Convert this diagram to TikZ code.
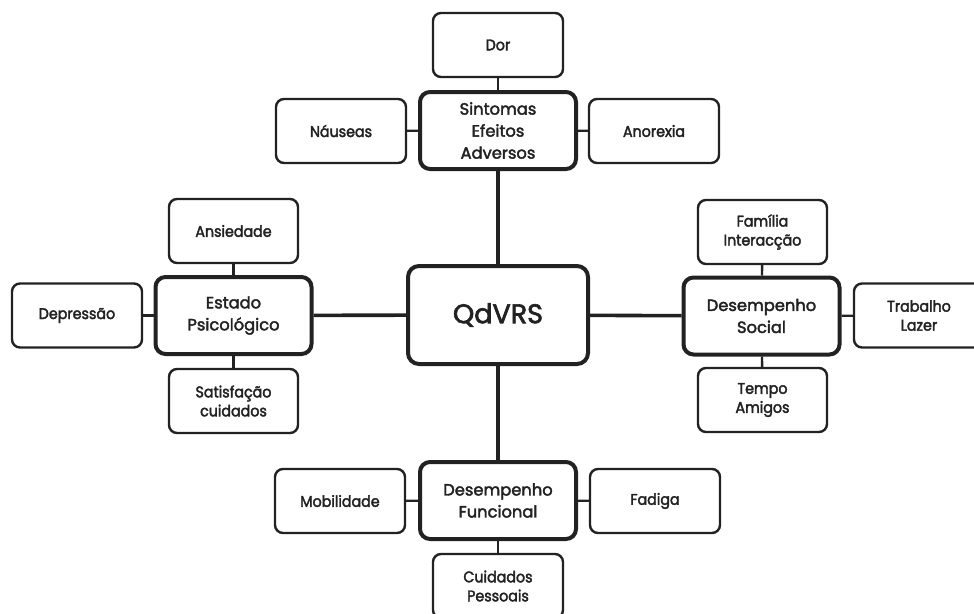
\documentclass[tikz,border=0pt]{standalone}
\usepackage{fontspec}
\setmainfont{Poppins}[FakeBold=2.4]
\newfontfamily\subfont{Poppins}[FakeBold=2.4, FakeStretch=0.92]
\definecolor{ink}{HTML}{222222}
\begin{document}
\begin{tikzpicture}[x=1pt,y=-1pt,
  subbox/.style={draw=ink, line width=2.4pt, rounded corners=8pt, minimum width=130pt, minimum height=64pt, align=center, font=\subfont\fontsize{15.5}{19}\selectfont, text=ink, inner sep=0pt},
  mainbox/.style={draw=ink, line width=4pt, rounded corners=10pt, minimum width=156pt, minimum height=77pt, align=center, font=\fontsize{16.3}{22}\selectfont, text=ink, inner sep=0pt},
  hubbox/.style={draw=ink, line width=4pt, rounded corners=11pt, minimum width=180pt, minimum height=98pt, align=center, font=\fontsize{27}{32}\selectfont, text=ink, inner sep=0pt},
  biglink/.style={draw=ink, line width=3.6pt},
  smalllink/.style={draw=ink, line width=2.4pt}
]
\useasboundingbox (0,0) rectangle (974,613);
\fill[white] (0,0) rectangle (974,613);

% hub
\node[hubbox] (hub) at (498,315) {QdVRS};

% top cluster
\node[mainbox] (sint) at (498,130.5) {Sintomas\\Efeitos\\Adversos};
\node[subbox] (dor) at (498,45) {Dor};
\node[subbox] (naus) at (341,131) {Náuseas};
\node[subbox] (anor) at (654,131) {Anorexia};

% left cluster
\node[mainbox] (estado) at (233.5,315.5) {Estado\\Psicológico};
\node[subbox, minimum width=129pt] (ansi) at (233.5,231) {Ansiedade};
\node[subbox] (depr) at (77,315.5) {Depressão};
\node[subbox, minimum width=129pt] (satis) at (233.5,401) {Satisfação\\cuidados};

% right cluster
\node[mainbox] (social) at (761.5,316) {Desempenho\\Social};
\node[subbox, minimum width=129pt] (fam) at (762.5,232) {Família\\Interacção};
\node[subbox] (trab) at (919,315.5) {Trabalho\\Lazer};
\node[subbox, minimum width=129pt] (tempo) at (762.5,400) {Tempo\\Amigos};

% bottom cluster
\node[mainbox] (func) at (498,500.5) {Desempenho\\Funcional};
\node[subbox] (mobi) at (340,501) {Mobilidade};
\node[subbox] (fadi) at (655,501) {Fadiga};
\node[subbox] (cuid) at (498,586) {Cuidados\\Pessoais};

% hub links
\draw[biglink] (hub) -- (sint);
\draw[biglink] (hub) -- (estado);
\draw[biglink] (hub) -- (social);
\draw[biglink] (hub) -- (func);

% sub links
\draw[smalllink] (sint) -- (dor);
\draw[smalllink] (sint) -- (naus);
\draw[smalllink] (sint) -- (anor);
\draw[smalllink] (estado) -- (ansi);
\draw[smalllink] (estado) -- (depr);
\draw[smalllink] (estado) -- (satis);
\draw[smalllink] (social) -- (fam);
\draw[smalllink] (social) -- (trab);
\draw[smalllink] (social) -- (tempo);
\draw[smalllink] (func) -- (mobi);
\draw[smalllink] (func) -- (fadi);
\draw[smalllink] (func) -- (cuid);
\end{tikzpicture}
\end{document}
